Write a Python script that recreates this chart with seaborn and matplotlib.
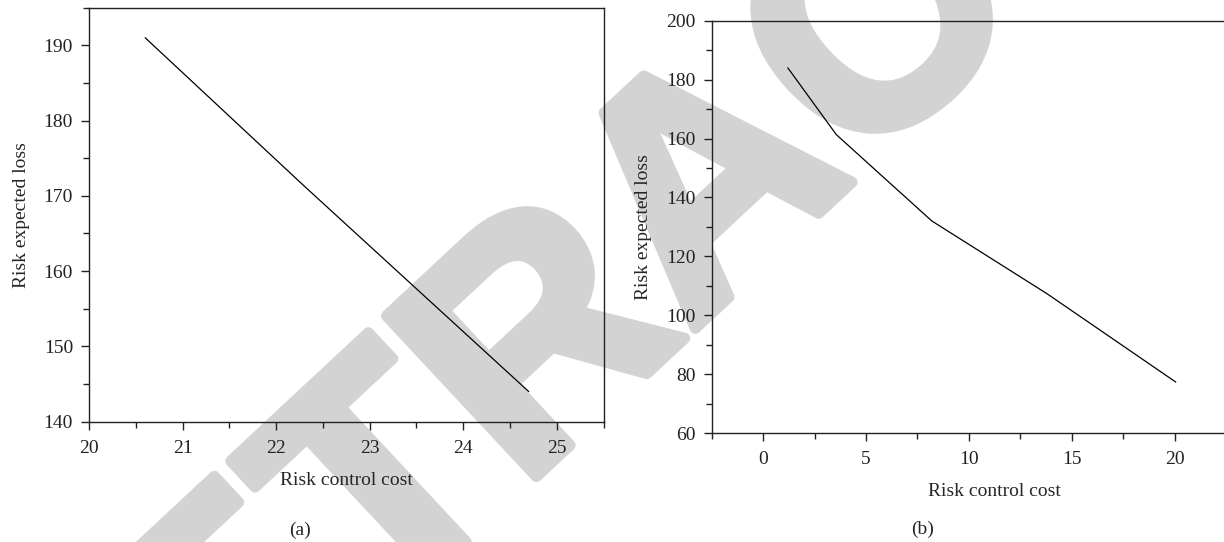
import matplotlib
matplotlib.use("Agg")
import matplotlib.pyplot as plt
import matplotlib.patheffects as pe
import seaborn as sns
import pandas as pd
from matplotlib.ticker import MultipleLocator

# Data
cost_a = [20.6, 22.3, 24.7]
loss_a = [191.0, 171.3, 144.0]

cost_b = [1.2, 3.56, 8.2, 13.8, 20.06]
loss_b = [184.0, 161.3, 132.0, 107.3, 77.3]

xlabel = "Risk control cost"
ylabel = "Risk expected loss"
panel_labels = ["(a)", "(b)"]
watermark = "RETRACTED"

sns.set_theme(style="ticks")
plt.rcParams["font.family"] = ["Liberation Serif", "DejaVu Serif"]
plt.rcParams["font.size"] = 14
plt.rcParams["axes.linewidth"] = 1.0
plt.rcParams["axes.edgecolor"] = "#222222"

W, H = 1224, 542
fig = plt.figure(figsize=(W / 100, H / 100), dpi=100)

# Watermark
wm_color = "#d3d3d3"
fig.text(774 / W, 1 - 255 / H, watermark, fontsize=230, fontweight="bold",
         family="Liberation Sans", color=wm_color, rotation=43,
         rotation_mode="anchor", ha="center", va="baseline", zorder=-1,
         path_effects=[pe.withStroke(linewidth=8, foreground=wm_color)])

def px(x0, y0, x1, y1):
    return [x0 / W, 1 - y1 / H, (x1 - x0) / W, (y1 - y0) / H]

ax1 = fig.add_axes(px(89, 7.6, 603.6, 421.7))
ax2 = fig.add_axes(px(711.7, 20.7, 711.7 + 27.5 * 20.57, 433))

df_a = pd.DataFrame({"cost": cost_a, "loss": loss_a})
df_b = pd.DataFrame({"cost": cost_b, "loss": loss_b})

sns.lineplot(data=df_a, x="cost", y="loss", ax=ax1, color="black", lw=0.9)
sns.lineplot(data=df_b, x="cost", y="loss", ax=ax2, color="black", lw=0.9)

for ax in (ax1, ax2):
    ax.set_facecolor("none")
    ax.set_xlabel(xlabel, fontsize=14, labelpad=11)
    ax.set_ylabel(ylabel, fontsize=14, labelpad=10)
    ax.tick_params(which="major", direction="out", length=6, width=1.0,
                   labelsize=14, colors="#222222", labelcolor="#222222")
    ax.tick_params(axis="x", which="major", pad=7)
    ax.tick_params(axis="y", which="major", pad=5.5)
    ax.tick_params(which="minor", direction="out", length=4, width=1.0,
                   colors="#222222")
    for s in ax.spines.values():
        s.set_visible(True)
        s.set_color("#222222")

ax1.set_xlim(20, 25.5)
ax1.set_ylim(140, 195)
ax1.xaxis.set_major_locator(MultipleLocator(1))
ax1.xaxis.set_minor_locator(MultipleLocator(0.5))
ax1.yaxis.set_major_locator(MultipleLocator(10))
ax1.yaxis.set_minor_locator(MultipleLocator(5))

ax2.set_xlim(-2.5, 25)
ax2.set_ylim(60, 200)
ax2.xaxis.set_major_locator(MultipleLocator(5))
ax2.xaxis.set_minor_locator(MultipleLocator(2.5))
ax2.yaxis.set_major_locator(MultipleLocator(20))
ax2.yaxis.set_minor_locator(MultipleLocator(10))

fig.text(300 / W, 1 - 530 / H, panel_labels[0], ha="center", va="center", fontsize=14)
fig.text(923 / W, 1 - 529 / H, panel_labels[1], ha="center", va="center", fontsize=14)

fig.savefig("out.png", dpi=100)
